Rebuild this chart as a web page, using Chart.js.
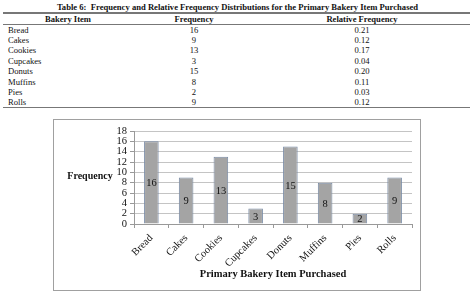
<!DOCTYPE html>
<html>
<head>
<meta charset="utf-8">
<script src="https://cdn.jsdelivr.net/npm/chart.js@4/dist/chart.umd.min.js"></script>
<style>
  html, body { margin:0; padding:0; background:#fff; }
  body { width:475px; height:294px; position:relative; overflow:hidden; font-family:"Liberation Serif","Times New Roman",serif; color:#111; }
  .abs { position:absolute; white-space:nowrap; }
  #title { left:0; width:475px; top:2px; text-align:center; font-weight:bold; font-size:8.6px; line-height:11px; }
  .hline { position:absolute; left:3px; width:467px; height:1px; background:#777; }
  .hdr { font-weight:bold; font-size:8.6px; line-height:10px; top:14px; transform:translateX(-50%); }
  .cell { font-size:8.6px; line-height:10px; }
  .ctr { transform:translateX(-50%); }
  #box { position:absolute; left:53px; top:119px; width:366px; height:170px; border:1px solid #a0a0a0; }
  #c { position:absolute; left:0; top:0; }
</style>
</head>
<body>
<div id="title" class="abs">Table 6:&nbsp; Frequency and Relative Frequency Distributions for the Primary Bakery Item Purchased</div>
<div class="hline" style="top:12px;height:1.5px;"></div>
<div class="hline" style="top:24px;"></div>
<div class="hline" style="top:107px;"></div>
<div id="tbl"></div>
<div id="box"><canvas id="c" width="366" height="170"></canvas></div>
<script>
const headers = ["Bakery Item", "Frequency", "Relative Frequency"];
const categories = ["Bread", "Cakes", "Cookies", "Cupcakes", "Donuts", "Muffins", "Pies", "Rolls"];
const frequencies = [16, 9, 13, 3, 15, 8, 2, 9];
const relativeFrequencies = ["0.21", "0.12", "0.17", "0.04", "0.20", "0.11", "0.03", "0.12"];
const yTicks = [0, 2, 4, 6, 8, 10, 12, 14, 16, 18];
const xTitle = "Primary Bakery Item Purchased";
const yTitle = "Frequency";

// table
const tbl = document.getElementById('tbl');
const hdrX = [68, 194, 362];
headers.forEach((h, i) => {
  const d = document.createElement('div');
  d.className = 'abs hdr'; d.style.left = hdrX[i] + 'px'; d.textContent = h;
  tbl.appendChild(d);
});
categories.forEach((c, r) => {
  const top = 24.5 + r * 10.4;
  const cells = [c, String(frequencies[r]), relativeFrequencies[r]];
  cells.forEach((t, i) => {
    const d = document.createElement('div');
    d.className = 'abs cell' + (i > 0 ? ' ctr' : '');
    d.style.top = top + 'px';
    d.style.left = (i === 0 ? 8 : hdrX[i]) + 'px';
    d.textContent = t;
    tbl.appendChild(d);
  });
});

const serif = '"Liberation Serif","Times New Roman",serif';

const extras = {
  id: 'extras',
  afterDatasetsDraw(chart) {
    const ctx = chart.ctx;
    const meta = chart.getDatasetMeta(0);
    ctx.save();
    ctx.font = '10.5px ' + serif;
    ctx.fillStyle = '#111';
    ctx.textAlign = 'center';
    ctx.textBaseline = 'middle';
    meta.data.forEach((bar, i) => {
      const p = bar.getProps(['x', 'y', 'base'], true);
      ctx.fillText(String(frequencies[i]), p.x, (p.y + p.base) / 2 + 1);
    });
    ctx.font = 'bold 10px ' + serif;
    ctx.fillText(yTitle, 36, chart.scales.y.getPixelForValue(9) - 1);
    ctx.restore();
  }
};

new Chart(document.getElementById('c'), {
  type: 'bar',
  data: {
    labels: categories,
    datasets: [{
      data: frequencies,
      backgroundColor: '#a4a4a4',
      borderColor: '#7a8ca6',
      borderWidth: 1,
      categoryPercentage: 1,
      barPercentage: 0.42
    }]
  },
  options: {
    responsive: false,
    animation: false,
    events: [],
    layout: { padding: { top: 11, right: 8, left: 0, bottom: 0 } },
    plugins: { legend: { display: false }, tooltip: { enabled: false } },
    scales: {
      x: {
        grid: { display: true, drawOnChartArea: false, drawTicks: true, tickLength: 4, color: '#999', offset: true },
        border: { color: '#999' },
        ticks: { color: '#111', font: { family: serif, size: 10.5 }, minRotation: 45, maxRotation: 45, padding: 4, autoSkip: false },
        title: { display: true, text: xTitle, color: '#111', font: { family: serif, size: 10.5, weight: 'bold' }, padding: { top: 0, bottom: 9 } },
        afterFit(s) { s.height = 66; }
      },
      y: {
        min: 0, max: 18,
        afterBuildTicks(s) { s.ticks = yTicks.map(v => ({ value: v })); },
        grid: { color: '#c4c4c4', tickLength: 4, tickColor: '#999' },
        border: { color: '#999' },
        ticks: { color: '#111', font: { family: serif, size: 10.5 }, padding: 3, autoSkip: false },
        afterFit(s) { s.width = 80; }
      }
    }
  },
  plugins: [extras]
});
</script>
</body>
</html>
